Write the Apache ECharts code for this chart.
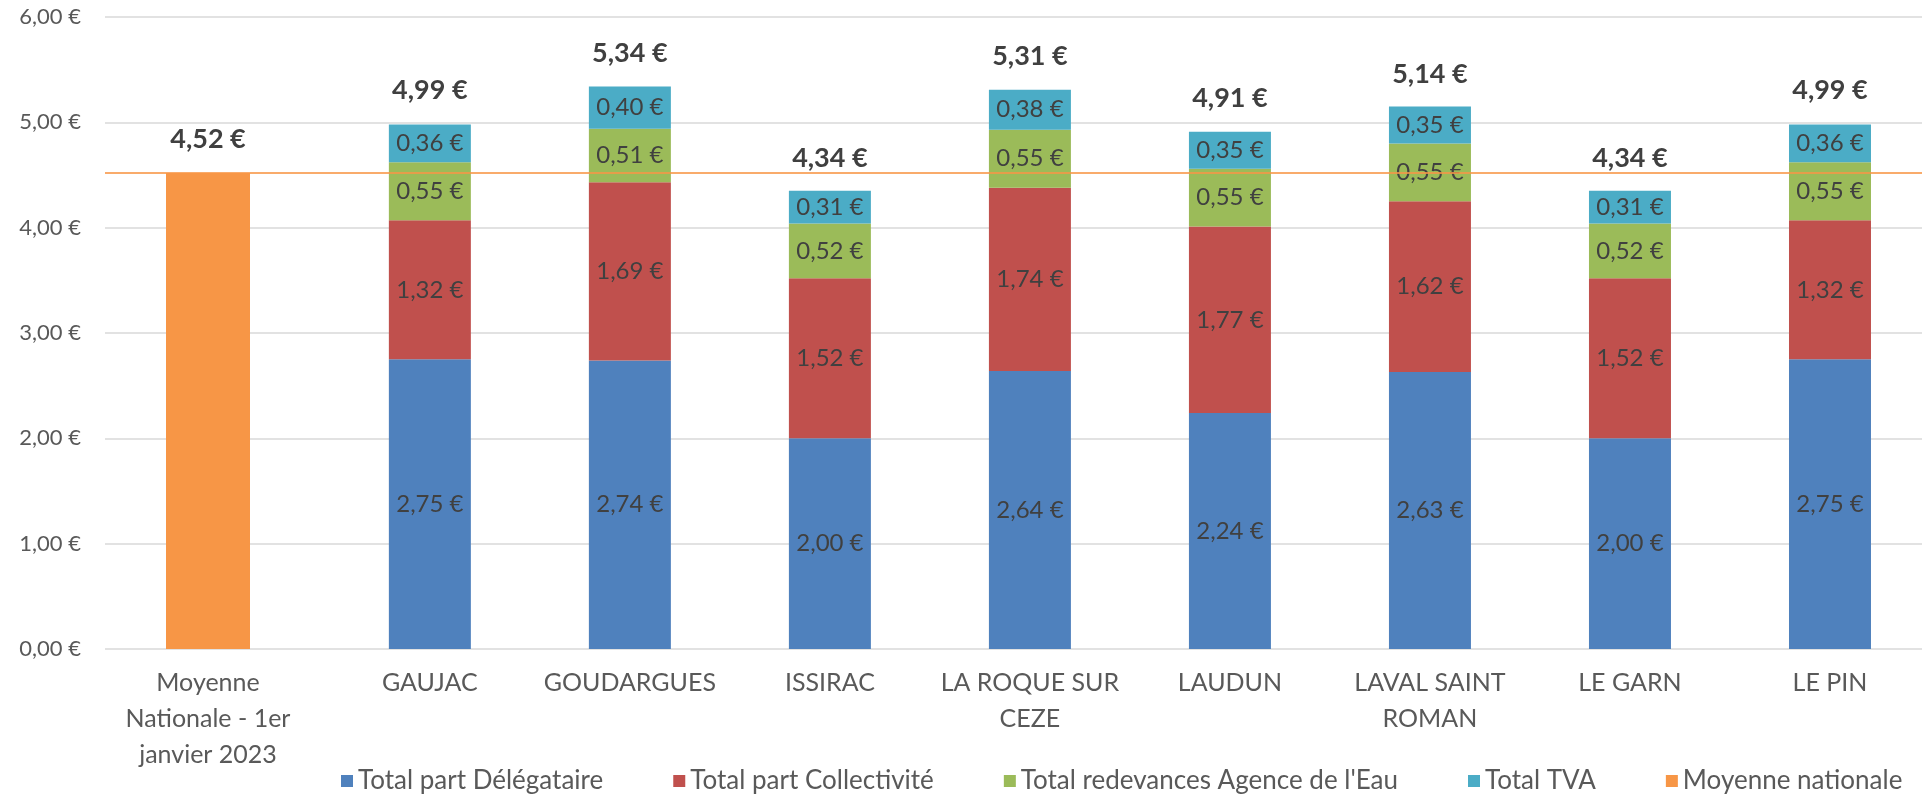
<!DOCTYPE html>
<html>
<head>
<meta charset="utf-8">
<script src="https://cdn.jsdelivr.net/npm/echarts@6/dist/echarts.min.js"></script>
<style>
  html, body { margin: 0; padding: 0; background: #fff; }
  #chart { width: 1930px; height: 797px; }
</style>
</head>
<body>
<div id="chart"></div>
<script>
// données
var communes = ['GAUJAC', 'GOUDARGUES', 'ISSIRAC', 'LA ROQUE SUR\nCEZE', 'LAUDUN',
    'LAVAL SAINT\nROMAN', 'LE GARN', 'LE PIN'];
var partDelegataire = [2.75, 2.74, 2.00, 2.64, 2.24, 2.63, 2.00, 2.75];
var partCollectivite = [1.32, 1.69, 1.52, 1.74, 1.77, 1.62, 1.52, 1.32];
var redevancesAgence = [0.55, 0.51, 0.52, 0.55, 0.55, 0.55, 0.52, 0.55];
var totalTVA = [0.36, 0.40, 0.31, 0.38, 0.35, 0.35, 0.31, 0.36];
var totaux = [4.99, 5.34, 4.34, 5.31, 4.91, 5.14, 4.34, 4.99];
var moyenneLabel = ['Moyenne\nNationale - 1er\njanvier 2023'];
var moyenneNationale = [4.52];

var FONT = 'Lato';
function euro(v) {
    return v.toFixed(2).replace('.', ',') + ' €';
}

var myChart = echarts.init(document.getElementById('chart'));

var insideLabel = {
    show: true,
    position: 'inside',
    color: '#404040',
    fontFamily: FONT,
    fontSize: 24,
    formatter: function (p) { return euro(p.value); }
};
var totalLabel = {
    show: true,
    position: 'top',
    distance: 20,
    color: '#404040',
    fontFamily: FONT,
    fontWeight: 'bold',
    fontSize: 27,
    formatter: function (p) { return euro(p.value); }
};

function stackSerie(name, data, color) {
    return {
        name: name,
        type: 'bar',
        stack: 'prix',
        xAxisIndex: 2,
        yAxisIndex: 2,
        barWidth: 82,
        data: data,
        itemStyle: { color: color },
        label: insideLabel
    };
}

var xLabel = {
    color: '#595959',
    fontFamily: FONT,
    fontSize: 25,
    lineHeight: 36,
    margin: 16,
    interval: 0
};

myChart.setOption({
    animation: false,
    legend: {
        left: 336,
        top: 763,
        itemWidth: 12,
        itemHeight: 12,
        itemGap: 70,
        icon: 'rect',
        textStyle: { color: '#595959', fontFamily: FONT, fontSize: 26 },
        data: ['Total part Délégataire', 'Total part Collectivité',
            "Total redevances Agence de l'Eau", 'Total TVA', 'Moyenne nationale']
    },
    grid: [
        // fond : lignes de la grille sur toute la largeur
        { left: 105, right: 8, top: 17, bottom: 148 },
        // moyenne nationale
        { left: 105, right: 1619, top: 17, bottom: 148 },
        // communes
        { left: 329.85, right: -34.3, top: 17, bottom: 148 }
    ],
    xAxis: [
        { gridIndex: 0, type: 'value', min: 0, max: 1, show: false },
        {
            gridIndex: 1, type: 'category', data: moyenneLabel,
            axisLine: { show: false }, axisTick: { show: false },
            axisLabel: xLabel
        },
        {
            gridIndex: 2, type: 'category', data: communes,
            axisLine: { show: false }, axisTick: { show: false },
            axisLabel: xLabel
        }
    ],
    yAxis: [
        {
            gridIndex: 0, type: 'value', min: 0, max: 6, interval: 1,
            axisLine: { show: false }, axisTick: { show: false },
            axisLabel: {
                color: '#595959', fontFamily: FONT, fontSize: 22, margin: 24,
                formatter: function (v) { return euro(v); }
            },
            splitLine: { lineStyle: { color: '#e2e2e2', width: 2 } }
        },
        { gridIndex: 1, type: 'value', min: 0, max: 6, show: false },
        { gridIndex: 2, type: 'value', min: 0, max: 6, show: false }
    ],
    series: [
        {
            // ligne de la moyenne nationale
            name: 'ligne moyenne',
            type: 'line',
            xAxisIndex: 0,
            yAxisIndex: 0,
            data: [],
            markLine: {
                silent: true,
                symbol: 'none',
                label: { show: false },
                lineStyle: { color: '#F79646', width: 2, type: 'solid', opacity: 0.8 },
                data: [{ yAxis: moyenneNationale[0] }]
            }
        },
        {
            name: 'Moyenne nationale',
            type: 'bar',
            xAxisIndex: 1,
            yAxisIndex: 1,
            barWidth: 84,
            data: moyenneNationale,
            itemStyle: { color: '#F79646' },
            label: totalLabel
        },
        stackSerie('Total part Délégataire', partDelegataire, '#4F81BD'),
        stackSerie('Total part Collectivité', partCollectivite, '#C0504D'),
        stackSerie("Total redevances Agence de l'Eau", redevancesAgence, '#9BBB59'),
        stackSerie('Total TVA', totalTVA, '#4BACC6'),
        {
            // totaux au-dessus des barres
            name: 'Total',
            type: 'bar',
            xAxisIndex: 2,
            yAxisIndex: 2,
            barWidth: 82,
            barGap: '-100%',
            data: totaux,
            itemStyle: { color: 'rgba(0,0,0,0)' },
            label: totalLabel,
            z: 1
        }
    ]
});
</script>
</body>
</html>
